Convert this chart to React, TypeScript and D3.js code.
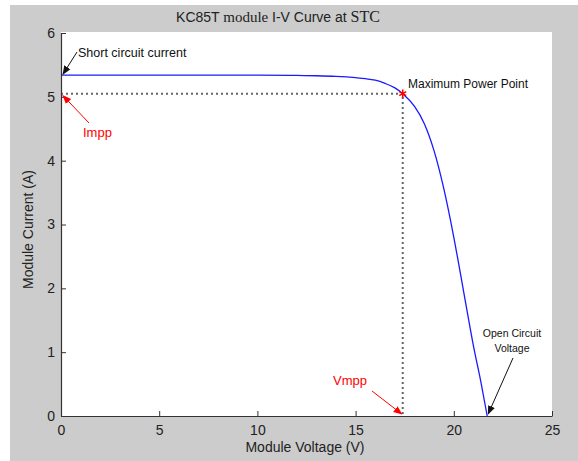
import React, { useEffect, useRef } from "react";
import * as d3 from "d3";

// I-V curve of the KC85T module
const voltage = [0, 5, 10, 12, 13, 14, 15, 15.5, 16, 16.5, 17, 17.4, 18, 18.5, 19, 19.5, 20, 20.5, 21, 21.4, 21.7];
const current = [5.34, 5.34, 5.34, 5.335, 5.33, 5.32, 5.30, 5.285, 5.26, 5.21, 5.14, 5.05, 4.85, 4.58, 4.15, 3.55, 2.8, 1.95, 1.1, 0.5, 0];
const xTicks = [0, 5, 10, 15, 20, 25];
const yTicks = [0, 1, 2, 3, 4, 5, 6];
const isc = 5.34;
const vmpp = 17.4;
const impp = 5.05;
const voc = 21.7;

const W = 578, H = 461;
const plot = { left: 61, right: 552, top: 33, bottom: 416 };
const sans = "'Liberation Sans', Arial, sans-serif";
const serif = "'Liberation Serif', 'Times New Roman', serif";

export default function App() {
  const xRef = useRef<SVGGElement>(null);
  const yRef = useRef<SVGGElement>(null);

  const x = d3.scaleLinear().domain([0, 25]).range([plot.left, plot.right]);
  const y = d3.scaleLinear().domain([0, 6]).range([plot.bottom, plot.top]);

  useEffect(() => {
    const xa = d3.select(xRef.current);
    xa.selectAll("*").remove();
    xa.call(d3.axisBottom(x).tickValues(xTicks).tickFormat(d3.format("d")).tickSizeInner(-5).tickSizeOuter(0).tickPadding(9));
    const ya = d3.select(yRef.current);
    ya.selectAll("*").remove();
    ya.call(d3.axisLeft(y).tickValues(yTicks).tickFormat(d3.format("d")).tickSizeInner(-5).tickSizeOuter(0).tickPadding(6));
    [xa, ya].forEach(g => {
      g.selectAll("text").attr("font-family", sans).attr("font-size", 14).attr("fill", "#222");
      g.selectAll("line").attr("stroke", "#333");
      g.select(".domain").attr("stroke", "#333").attr("stroke-width", 1.2);
    });
  }, []);

  const pts = voltage.map((v, i) => [v, current[i]] as [number, number]);
  const line = d3.line<[number, number]>()
    .x(d => x(d[0]))
    .y(d => y(d[1]))
    .curve(d3.curveMonotoneX);

  const star = d3.symbol().type(d3.symbolAsterisk).size(45)();

  return (
    <svg width={W} height={H} style={{ position: "absolute", left: 0, top: 0 }}>
      <defs>
        <marker id="ahBlack" viewBox="0 0 10 10" refX="9" refY="5" markerWidth="9" markerHeight="9" orient="auto" markerUnits="userSpaceOnUse">
          <path d="M0,1 L10,5 L0,9 Z" fill="#111" />
        </marker>
        <marker id="ahRed" viewBox="0 0 10 10" refX="9" refY="5" markerWidth="9" markerHeight="9" orient="auto" markerUnits="userSpaceOnUse">
          <path d="M0,1 L10,5 L0,9 Z" fill="#f00" />
        </marker>
      </defs>
      <rect x={10} y={5} width={W - 10} height={H - 5} fill="#cccccc" />
      <rect x={plot.left} y={plot.top - 1} width={plot.right - plot.left} height={plot.bottom - plot.top + 1} fill="#fff" />

      <text x={278} y={22} textAnchor="middle" fill="#222" style={{ fontFamily: sans, fontSize: 14 }}>
        <tspan style={{ fontFamily: sans }}>KC85T </tspan>
        <tspan style={{ fontFamily: serif, fontSize: 15 }}> module </tspan>
        <tspan style={{ fontFamily: sans }}>I-V Curve at </tspan>
        <tspan style={{ fontFamily: serif, fontSize: 16 }}>STC</tspan>
      </text>

      {/* guides to the maximum power point */}
      <path d={`M${x(0)},${y(impp)}H${x(vmpp)}V${y(0)}`} fill="none" stroke="#666" strokeWidth={2} strokeDasharray="2,3" />

      <path d={line(pts) ?? ""} fill="none" stroke="#1a1aff" strokeWidth={1.3} />
      <path d={star ?? ""} transform={`translate(${x(vmpp)},${y(impp)})`} stroke="#f00" strokeWidth={1.5} fill="none" />

      <g ref={xRef} transform={`translate(0,${plot.bottom})`} />
      <g ref={yRef} transform={`translate(${plot.left},0)`} />

      <text x={305} y={452} textAnchor="middle" fontSize={14} fill="#222" fontFamily={sans}>Module Voltage (V)</text>
      <text transform={`translate(33,${(plot.top + plot.bottom) / 2 + 5}) rotate(-90)`} textAnchor="middle" fontSize={14} fill="#222" fontFamily={sans}>Module Current (A)</text>

      {/* annotations */}
      <text x={78} y={57} fontSize={12.5} fill="#111" fontFamily={sans}>Short circuit current</text>
      <line x1={77} x2={x(0) + 2} y1={52} y2={y(isc) - 1} stroke="#111" strokeWidth={1} markerEnd="url(#ahBlack)" />

      <text x={408} y={88} fontSize={12} fill="#111" fontFamily={sans}>Maximum Power Point</text>

      <text x={83} y={137} fontSize={13} fill="#f00" fontFamily={sans}>Impp</text>
      <line x1={89} y1={123} x2={x(0) + 2} y2={y(impp) + 2} stroke="#f00" strokeWidth={1} markerEnd="url(#ahRed)" />

      <text x={333} y={385} fontSize={13} fill="#f00" fontFamily={sans}>Vmpp</text>
      <line x1={372} y1={391} x2={x(vmpp) - 1} y2={y(0) - 2} stroke="#f00" strokeWidth={1} markerEnd="url(#ahRed)" />

      <text x={512} y={337} textAnchor="middle" fontSize={10.5} fill="#111" fontFamily={sans}>Open Circuit</text>
      <text x={512} y={352} textAnchor="middle" fontSize={10.5} fill="#111" fontFamily={sans}>Voltage</text>
      <line x1={513} y1={358} x2={x(voc) + 1} y2={y(0) - 2} stroke="#111" strokeWidth={1} markerEnd="url(#ahBlack)" />
    </svg>
  );
}
